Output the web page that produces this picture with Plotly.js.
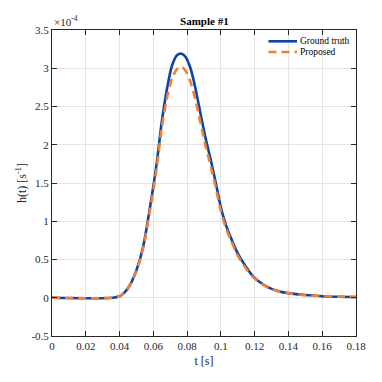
<!DOCTYPE html>
<html>
<head>
<meta charset="utf-8">
<script src="https://cdn.plot.ly/plotly-3.0.1.min.js"></script>
<style>
  html, body { margin: 0; padding: 0; background: #fff; }
  #chart { width: 382px; height: 382px; }
</style>
</head>
<body>
<div id="chart"></div>
<script>
// values in units of 1e-4 s^-1
const tTruth = [0, 0.036, 0.040, 0.043, 0.046, 0.050, 0.054, 0.058, 0.062, 0.065, 0.068, 0.071, 0.074, 0.0767,
  0.079, 0.082, 0.085, 0.088, 0.091, 0.094, 0.097, 0.100, 0.103, 0.106, 0.110, 0.115, 0.119, 0.124, 0.129,
  0.135, 0.140, 0.150, 0.160, 0.170, 0.180];
const hTruth = [0, 0.0, 0.02, 0.07, 0.16, 0.36, 0.67, 1.18, 1.76, 2.30, 2.72, 3.03, 3.17, 3.19,
  3.15, 3.00, 2.73, 2.40, 2.08, 1.80, 1.50, 1.18, 0.95, 0.78, 0.58, 0.40, 0.28, 0.19, 0.125,
  0.08, 0.06, 0.035, 0.02, 0.013, 0.01];

const tProp = [0, 0.036, 0.040, 0.043, 0.046, 0.050, 0.054, 0.058, 0.062, 0.065, 0.068, 0.071, 0.074, 0.0767,
  0.079, 0.082, 0.085, 0.088, 0.091, 0.094, 0.097, 0.100, 0.103, 0.106, 0.110, 0.115, 0.119, 0.124, 0.129,
  0.135, 0.140, 0.150, 0.160, 0.170, 0.180];
const hProp = [0, 0.0, 0.02, 0.07, 0.16, 0.35, 0.65, 1.14, 1.70, 2.22, 2.60, 2.86, 2.99, 3.02,
  2.97, 2.82, 2.58, 2.28, 1.98, 1.72, 1.44, 1.13, 0.91, 0.75, 0.55, 0.38, 0.27, 0.185, 0.12,
  0.078, 0.058, 0.034, 0.02, 0.013, 0.01];

const seriesNames = ["Ground truth", "Proposed"];
const xTicks = [0, 0.02, 0.04, 0.06, 0.08, 0.1, 0.12, 0.14, 0.16, 0.18];
const yTicks = [-0.5, 0, 0.5, 1, 1.5, 2, 2.5, 3, 3.5];
const yTickText = ["-0.5", "0", "0.5", "1", "1.5", "2", "2.5", "3", "3.5"];

const font = "Liberation Serif, Times New Roman, serif";
const blue = "#0b47a1", orange = "#f07f3a", dash = "8px,5px";
const axisCommon = {
  showline: true, mirror: "ticks", linecolor: "#262626", linewidth: 1,
  ticks: "inside", ticklen: 5, tickcolor: "#262626",
  showgrid: true, gridcolor: "#e5e5e5", gridwidth: 1,
  zeroline: false, tickfont: { family: font, size: 11, color: "#262626" }
};

// small legend drawn by hand so the rows sit close, as in the figure
const legendRows = [
  { name: seriesNames[0], y: 0.963, color: blue, dash: "solid" },
  { name: seriesNames[1], y: 0.928, color: orange, dash: dash }
];
const legendShapes = legendRows.map(r => ({
  type: "line", xref: "paper", yref: "paper", x0: 0.712, x1: 0.806, y0: r.y, y1: r.y,
  line: { color: r.color, width: 2.6, dash: r.dash }
}));
const legendTexts = legendRows.map(r => ({
  xref: "paper", yref: "paper", x: 0.81, y: r.y, xanchor: "left", yanchor: "middle",
  text: r.name, showarrow: false, font: { family: font, size: 9.5, color: "#000" }
}));

Plotly.newPlot("chart", [
  { x: tTruth, y: hTruth, name: seriesNames[0], mode: "lines",
    line: { color: blue, width: 2.6, shape: "spline", smoothing: 0.8 } },
  { x: tProp, y: hProp, name: seriesNames[1], mode: "lines",
    line: { color: orange, width: 2.6, dash: dash, shape: "spline", smoothing: 0.8 } }
], {
  width: 382, height: 382,
  margin: { l: 52, r: 26, t: 30, b: 46 },
  paper_bgcolor: "#fff", plot_bgcolor: "#fff",
  font: { family: font, color: "#262626" },
  showlegend: false,
  title: { text: "<b>Sample #1</b>", font: { family: font, size: 11, color: "#000" },
    x: 0.535, xanchor: "center", y: 0.944, yanchor: "middle" },
  xaxis: { ...axisCommon, range: [0, 0.18], tickvals: xTicks,
    title: { text: "t [s]", font: { family: font, size: 12, color: "#262626" }, standoff: 5 } },
  yaxis: { ...axisCommon, range: [-0.5, 3.5], tickvals: yTicks, ticktext: yTickText,
    title: { text: "h(t) [s<sup>-1</sup>]", font: { family: font, size: 12, color: "#262626" }, standoff: 2 } },
  shapes: legendShapes,
  annotations: [{ xref: "paper", yref: "paper", x: 0, y: 1, xanchor: "left", yanchor: "bottom",
    text: "×10<sup>-4</sup>", showarrow: false, font: { family: font, size: 11, color: "#262626" } },
    ...legendTexts]
}, { displayModeBar: false, responsive: false });
</script>
</body>
</html>
